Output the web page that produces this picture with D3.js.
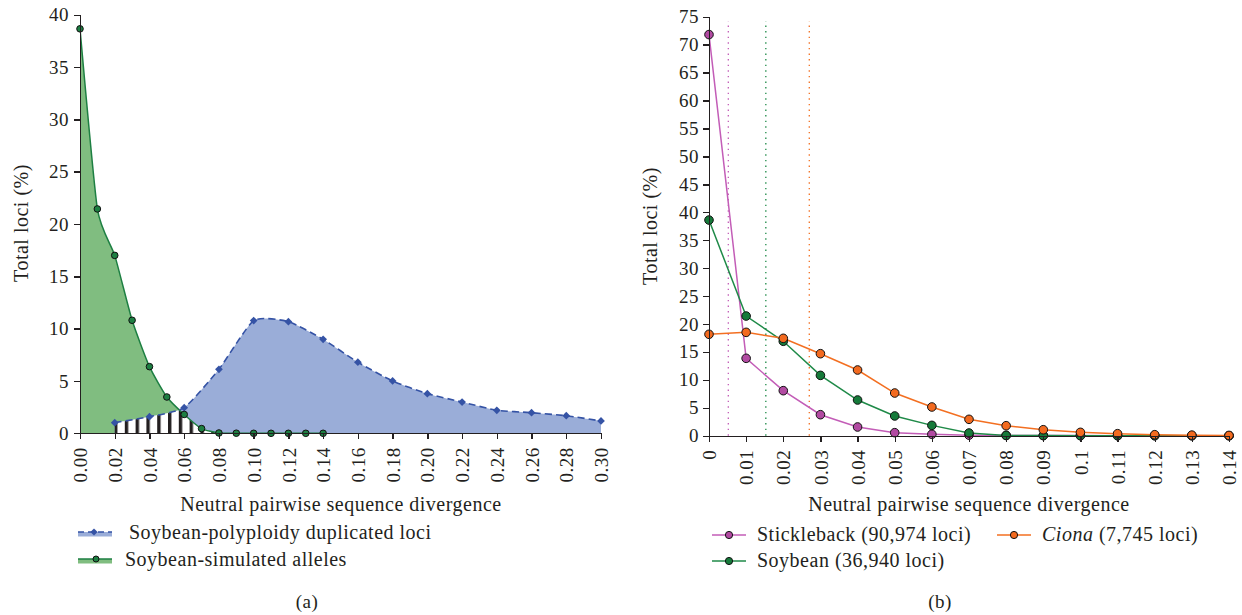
<!DOCTYPE html>
<html>
<head>
<meta charset="utf-8">
<style>
  body { margin: 0; background: #fff; }
  svg text { font-family: "Liberation Serif", "DejaVu Serif", serif; fill: #231f20; letter-spacing: 0.5px; }
  .axis path, .axis line { stroke: #231f20; stroke-width: 1.4; shape-rendering: crispEdges; }
</style>
</head>
<body>
<svg width="1242" height="615"></svg>
<script src="https://cdnjs.cloudflare.com/ajax/libs/d3/7.8.5/d3.min.js"></script>
<script>

// ---- panel (a) data ----
var simX = [0, 0.01, 0.02, 0.03, 0.04, 0.05, 0.06, 0.07, 0.08, 0.09, 0.10, 0.11, 0.12, 0.13, 0.14];
var simVals = [38.65, 21.44, 17.0, 10.8, 6.37, 3.47, 1.8, 0.45, 0.03, 0.01, 0, 0, 0, 0, 0];
var polyX = [0.02, 0.04, 0.06, 0.08, 0.10, 0.12, 0.14, 0.16, 0.18, 0.20, 0.22, 0.24, 0.26, 0.28, 0.30];
var polyVals = [1.02, 1.59, 2.45, 6.12, 10.77, 10.67, 8.98, 6.79, 5.0, 3.79, 2.99, 2.2, 1.97, 1.68, 1.18];
var aTicksX = [0, 0.02, 0.04, 0.06, 0.08, 0.10, 0.12, 0.14, 0.16, 0.18, 0.20, 0.22, 0.24, 0.26, 0.28, 0.30];
var aTickLabels = ["0.00", "0.02", "0.04", "0.06", "0.08", "0.10", "0.12", "0.14", "0.16", "0.18", "0.20", "0.22", "0.24", "0.26", "0.28", "0.30"];
var aTicksY = [0, 5, 10, 15, 20, 25, 30, 35, 40];

// ---- panel (b) data ----
var divX = [0, 0.01, 0.02, 0.03, 0.04, 0.05, 0.06, 0.07, 0.08, 0.09, 0.10, 0.11, 0.12, 0.13, 0.14];
var bTickLabels = ["0", "0.01", "0.02", "0.03", "0.04", "0.05", "0.06", "0.07", "0.08", "0.09", "0.1", "0.11", "0.12", "0.13", "0.14"];
var stickleVals = [71.8, 13.85, 8.06, 3.76, 1.56, 0.54, 0.25, 0.1, 0.05, 0.03, 0.02, 0.01, 0.01, 0, 0];
var soyVals = [38.6, 21.42, 16.9, 10.8, 6.39, 3.53, 1.85, 0.48, 0.05, 0.02, 0.01, 0, 0, 0, 0];
var cionaVals = [18.15, 18.5, 17.43, 14.68, 11.76, 7.64, 5.14, 2.93, 1.79, 1.07, 0.6, 0.36, 0.18, 0.1, 0.05];
var meanX = { stickle: 0.0052, soy: 0.0153, ciona: 0.027 };
var bTicksY = d3.range(0, 80, 5);

var svg = d3.select("svg");

// ================= panel (a) =================
var xa = d3.scaleLinear().domain([0, 0.30]).range([80, 601]);
var ya = d3.scaleLinear().domain([0, 40]).range([433.3, 14.7]);

var green = "#1d7f42", greenFill = "#80bd80";
var blue = "#3553a5", blueFill = "#9aadd8";

var simPts = simX.map(function(x, i) { return [x, simVals[i]]; });
var polyPts = polyX.map(function(x, i) { return [x, polyVals[i]]; });

// excel-ish smoothing
var smooth = d3.curveCardinal.tension(0.45);

var areaA = d3.area()
    .x(function(d) { return xa(d[0]); })
    .y0(ya(0))
    .y1(function(d) { return Math.min(ya(d[1]), ya(0)); })
    .curve(smooth);
var lineA = d3.line()
    .x(function(d) { return xa(d[0]); })
    .y(function(d) { return ya(d[1]); })
    .curve(smooth);

var defs = svg.append("defs");
var pat = defs.append("pattern")
    .attr("id", "hatch")
    .attr("patternUnits", "userSpaceOnUse")
    .attr("x", 114).attr("y", 0)
    .attr("width", 10.8).attr("height", 10);
pat.append("rect").attr("width", 10.8).attr("height", 10).attr("fill", "#fff");
pat.append("rect").attr("width", 3.4).attr("height", 10).attr("fill", "#231f20");

defs.append("clipPath").attr("id", "polyClip")
  .append("path").attr("d", areaA(polyPts));
defs.append("clipPath").attr("id", "plotA")
  .append("rect").attr("x", 80).attr("y", 0).attr("width", 530).attr("height", ya(0));

var ga = svg.append("g");
var plotA = ga.append("g").attr("clip-path", "url(#plotA)");

plotA.append("path").attr("d", areaA(simPts)).attr("fill", greenFill);
plotA.append("path").attr("d", areaA(polyPts)).attr("fill", blueFill);
plotA.append("path").attr("d", areaA(simPts)).attr("fill", "url(#hatch)").attr("clip-path", "url(#polyClip)");

plotA.append("path").attr("d", lineA(simPts)).attr("fill", "none").attr("stroke", green).attr("stroke-width", 1.5);
plotA.append("path").attr("d", lineA(polyPts)).attr("fill", "none").attr("stroke", blue)
    .attr("stroke-width", 1.6).attr("stroke-dasharray", "7,4");

var diamond = d3.symbol().type(d3.symbolSquare).size(30);

ga.selectAll(".dia").data(polyPts).enter().append("path")
    .attr("transform", function(d) { return "translate(" + xa(d[0]) + "," + ya(d[1]) + ") rotate(45)"; })
    .attr("d", diamond)
    .attr("fill", blue);

ga.selectAll(".sim").data(simPts).enter().append("circle")
    .attr("cx", function(d) { return xa(d[0]); })
    .attr("cy", function(d) { return ya(d[1]); })
    .attr("r", 3.3)
    .attr("fill", green).attr("stroke", "#111").attr("stroke-width", 1);

// axes (a)
var axYa = ga.append("g").attr("class", "axis").attr("transform", "translate(80,0)")
    .call(d3.axisLeft(ya).tickValues(aTicksY).tickSize(6).tickSizeOuter(0).tickPadding(5));
axYa.selectAll("text").style("font-size", "19px");

var axXa = ga.append("g").attr("class", "axis").attr("transform", "translate(0," + ya(0) + ")")
    .call(d3.axisBottom(xa).tickValues(aTicksX).tickSize(6).tickSizeOuter(0)
      .tickFormat(function(d, i) { return aTickLabels[i]; }));
axXa.selectAll("text")
    .attr("transform", "rotate(-90)")
    .attr("x", -14).attr("y", 0).attr("dy", "0.35em")
    .style("text-anchor", "end").style("font-size", "19px");
svg.selectAll(".axis .domain").attr("stroke-width", 1.6);

ga.append("text").attr("transform", "translate(28,223) rotate(-90)")
    .attr("text-anchor", "middle").style("font-size", "20px").text("Total loci (%)");
ga.append("text").attr("x", 341).attr("y", 511)
    .attr("text-anchor", "middle").style("font-size", "20px").text("Neutral pairwise sequence divergence");

// legend (a)
var legA = [
  { label: "Soybean-polyploidy duplicated loci", y: 533, tx: 129, fill: blueFill, stroke: blue, dash: "6,4", mark: "dia" },
  { label: "Soybean-simulated alleles", y: 560, tx: 125, fill: greenFill, stroke: green, dash: null, mark: "dot" }
];
legA.forEach(function(l) {
  var g = ga.append("g");
  g.append("rect").attr("x", 78).attr("y", l.y - 1).attr("width", 34).attr("height", 4.5).attr("fill", l.fill);
  g.append("line").attr("x1", 78).attr("x2", 112).attr("y1", l.y - 1).attr("y2", l.y - 1)
    .attr("stroke", l.stroke).attr("stroke-width", 1.6).attr("stroke-dasharray", l.dash);
  if (l.mark === "dia") {
    g.append("path").attr("transform", "translate(94," + (l.y - 1) + ") rotate(45)")
      .attr("d", d3.symbol().type(d3.symbolSquare).size(26)).attr("fill", l.stroke);
  } else {
    g.append("circle").attr("cx", 96).attr("cy", l.y - 1).attr("r", 3).attr("fill", l.stroke)
      .attr("stroke", "#111").attr("stroke-width", 1);
  }
  g.append("text").attr("x", l.tx).attr("y", l.y + 6).style("font-size", "20px").text(l.label);
});

svg.append("text").attr("x", 307).attr("y", 608).attr("text-anchor", "middle")
    .style("font-size", "19px").text("(a)");

// ================= panel (b) =================
var xb = d3.scaleLinear().domain([0, 0.14]).range([709, 1229]);
var yb = d3.scaleLinear().domain([0, 75]).range([435.7, 16.7]);

var seriesB = [
  { key: "stickle", vals: stickleVals, line: "#c35db7", fill: "#b24aa2" },
  { key: "soy", vals: soyVals, line: "#1f8a48", fill: "#167a3a" },
  { key: "ciona", vals: cionaVals, line: "#f36f21", fill: "#f36a1f" }
];

var gb = svg.append("g");

seriesB.forEach(function(s) {
  gb.append("line")
    .attr("x1", xb(meanX[s.key])).attr("x2", xb(meanX[s.key]))
    .attr("y1", yb(0)).attr("y2", 21)
    .attr("stroke", s.line).attr("stroke-width", 1.3).attr("stroke-dasharray", "1.4,4.2");
});

var lineB = d3.line()
    .x(function(d, i) { return xb(divX[i]); })
    .y(function(d) { return yb(d); });

seriesB.forEach(function(s) {
  gb.append("path").attr("d", lineB(s.vals)).attr("fill", "none")
    .attr("stroke", s.line).attr("stroke-width", 1.5);
});
seriesB.forEach(function(s) {
  gb.selectAll(".m-" + s.key).data(s.vals).enter().append("circle")
    .attr("cx", function(d, i) { return xb(divX[i]); })
    .attr("cy", function(d) { return yb(d); })
    .attr("r", 4.3)
    .attr("fill", s.fill).attr("stroke", "#111").attr("stroke-width", 1);
});

var axYb = gb.append("g").attr("class", "axis").attr("transform", "translate(709,0)")
    .call(d3.axisLeft(yb).tickValues(bTicksY).tickSize(6).tickSizeOuter(0).tickPadding(4));
axYb.selectAll("text").style("font-size", "19px");

var axXb = gb.append("g").attr("class", "axis").attr("transform", "translate(0," + yb(0) + ")")
    .call(d3.axisBottom(xb).tickValues(divX).tickSize(6).tickSizeOuter(0)
      .tickFormat(function(d, i) { return bTickLabels[i]; }));
axXb.selectAll("text")
    .attr("transform", "rotate(-90)")
    .attr("x", -14).attr("y", 0).attr("dy", "0.35em")
    .style("text-anchor", "end").style("font-size", "19px");
svg.selectAll(".axis .domain").attr("stroke-width", 1.6);

gb.append("text").attr("transform", "translate(657,226) rotate(-90)")
    .attr("text-anchor", "middle").style("font-size", "20px").text("Total loci (%)");
gb.append("text").attr("x", 969).attr("y", 511)
    .attr("text-anchor", "middle").style("font-size", "20px").text("Neutral pairwise sequence divergence");

// legend (b)
var legB = [
  { s: seriesB[0], x: 712, y: 535, parts: [["Stickleback (90,974 loci)", false]] },
  { s: seriesB[2], x: 997, y: 535, parts: [["Ciona", true], [" (7,745 loci)", false]] },
  { s: seriesB[1], x: 712, y: 561, parts: [["Soybean (36,940 loci)", false]] }
];
legB.forEach(function(l) {
  var g = gb.append("g");
  g.append("line").attr("x1", l.x).attr("x2", l.x + 34).attr("y1", l.y).attr("y2", l.y)
    .attr("stroke", l.s.line).attr("stroke-width", 1.6);
  g.append("circle").attr("cx", l.x + 17).attr("cy", l.y).attr("r", 3.6)
    .attr("fill", l.s.fill).attr("stroke", "#111").attr("stroke-width", 1);
  var t = g.append("text").attr("x", l.x + 45).attr("y", l.y + 6).style("font-size", "20px");
  l.parts.forEach(function(p) {
    t.append("tspan").style("font-style", p[1] ? "italic" : "normal").text(p[0]);
  });
});

svg.append("text").attr("x", 940).attr("y", 608).attr("text-anchor", "middle")
    .style("font-size", "19px").text("(b)");

</script>
</body>
</html>
